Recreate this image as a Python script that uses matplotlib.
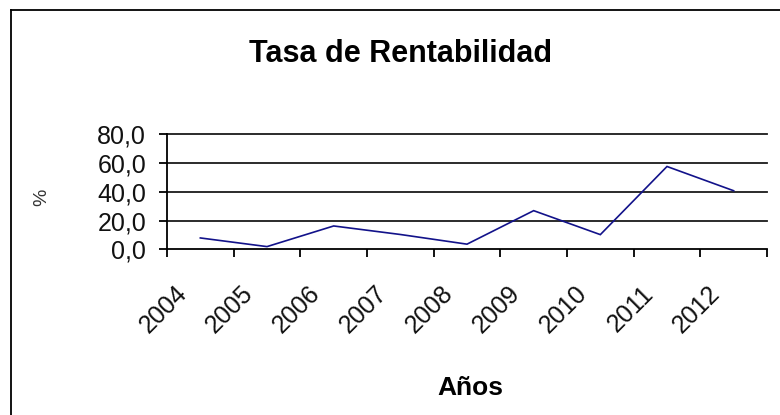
import numpy as np
import matplotlib
matplotlib.use("Agg")
import matplotlib.pyplot as plt
from matplotlib.lines import Line2D
from matplotlib.transforms import ScaledTranslation

plt.rcParams["font.family"] = ["Liberation Sans", "DejaVu Sans"]

# Data
years = ["2004", "2005", "2006", "2007", "2008", "2009", "2010", "2011", "2012"]
rentabilidad = [8.0, 2.0, 16.3, 10.4, 3.7, 26.9, 10.3, 57.5, 40.7]
y_ticks = [0, 20, 40, 60, 80]
y_tick_labels = ["0,0", "20,0", "40,0", "60,0", "80,0"]

W, H = 780, 415
fig = plt.figure(figsize=(W / 100, H / 100), dpi=100)
fig.patch.set_facecolor("white")

# plot area in pixels: x 167..767, y 134..249.5
ax = fig.add_axes([167 / W, 1 - 249.5 / H, 600 / W, 115.5 / H])

x = np.arange(len(years))
ax.plot(x, rentabilidad, color="#12128a", lw=1.2, solid_joinstyle="miter")

ax.set_xlim(-0.5, len(years) - 0.5)
ax.set_ylim(0, 80)

# gridlines
for yv in y_ticks[1:]:
    ax.axhline(yv, color="#1a1a1a", lw=1.3, zorder=0, clip_on=False)

for side in ["top", "right"]:
    ax.spines[side].set_visible(False)
for side in ["left", "bottom"]:
    ax.spines[side].set_color("black")
    ax.spines[side].set_linewidth(1.3)

ax.set_yticks(y_ticks)
ax.set_yticklabels(y_tick_labels, fontsize=18, color="#111111")
ax.tick_params(axis="y", length=6, width=1.3, pad=9, direction="out")

# category labels centered, tick marks on the boundaries
ax.set_xticks(x)
ax.set_xticklabels(years, fontsize=18, rotation=45, ha="right", va="top",
                   color="#111111")
ax.tick_params(axis="x", which="major", length=0, pad=23)
ax.set_xticks(np.arange(len(years) + 1) - 0.5, minor=True)
ax.tick_params(axis="x", which="minor", length=6, width=1.3, direction="out")
offset = ScaledTranslation(-9 / 100, 0, fig.dpi_scale_trans)
for lbl in ax.get_xticklabels():
    lbl.set_transform(lbl.get_transform() + offset)

fig.text(401 / W, 1 - 54 / H, "Tasa de Rentabilidad", fontsize=22,
         fontweight="bold", ha="center", va="center")
fig.text(470 / W, 1 - 388 / H, "Años", fontsize=19, fontweight="bold",
         ha="center", va="center")
fig.text(42 / W, 1 - 197 / H, "%", fontsize=14, rotation=90, color="#333333",
         ha="center", va="center")

# chart frame (only left and top edges visible)
fig.add_artist(Line2D([11 / W, 11 / W], [0, 1 - 10 / H], color="black", lw=1.3))
fig.add_artist(Line2D([11 / W, 1], [1 - 10 / H, 1 - 10 / H], color="black", lw=1.3))

fig.savefig("out.png", dpi=100)
